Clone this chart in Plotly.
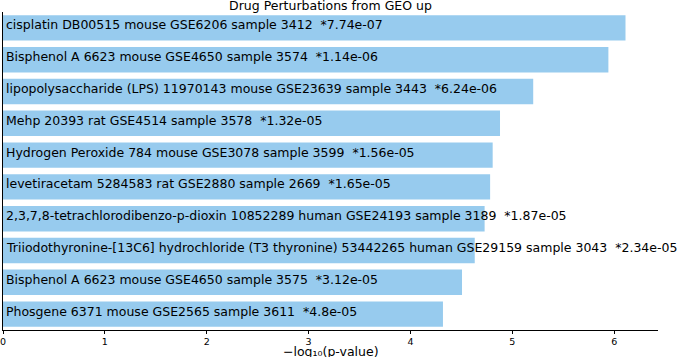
import plotly.graph_objects as go

terms = [
    "cisplatin DB00515 mouse GSE6206 sample 3412",
    "Bisphenol A 6623 mouse GSE4650 sample 3574",
    "lipopolysaccharide (LPS) 11970143 mouse GSE23639 sample 3443",
    "Mehp 20393 rat GSE4514 sample 3578",
    "Hydrogen Peroxide 784 mouse GSE3078 sample 3599",
    "levetiracetam 5284583 rat GSE2880 sample 2669",
    "2,3,7,8-tetrachlorodibenzo-p-dioxin 10852289 human GSE24193 sample 3189",
    "Triiodothyronine-[13C6] hydrochloride (T3 thyronine) 53442265 human GSE29159 sample 3043",
    "Bisphenol A 6623 mouse GSE4650 sample 3575",
    "Phosgene 6371 mouse GSE2565 sample 3611",
]
pvalue_labels = ["7.74e-07", "1.14e-06", "6.24e-06", "1.32e-05", "1.56e-05",
                 "1.65e-05", "1.87e-05", "2.34e-05", "3.12e-05", "4.8e-05"]
neg_log_p = [6.111, 5.943, 5.205, 4.879, 4.807, 4.782, 4.728, 4.631, 4.506, 4.319]
tick_vals = [0, 1, 2, 3, 4, 5, 6]

positions = list(range(len(terms)))
labels = [f"{t} \u00a0*{p}" for t, p in zip(terms, pvalue_labels)]

fig = go.Figure()
fig.add_trace(go.Bar(
    x=neg_log_p, y=positions, orientation="h", width=0.8,
    marker=dict(color="#97CBEE", line=dict(width=0)),
    hoverinfo="skip", showlegend=False,
))
for pos, lab in zip(positions, labels):
    fig.add_annotation(
        x=0, y=pos, xref="x", yref="y", text=lab, showarrow=False,
        xanchor="left", yanchor="middle", xshift=1, yshift=3,
        font=dict(family="DejaVu Sans", size=12.5, color="black"),
    )

fig.add_annotation(
    x=0.5, y=0, xref="paper", yref="paper", yanchor="middle", yshift=-21,
    text="\u2212log\u2081\u2080(p-value)", showarrow=False, borderpad=0,
    font=dict(family="DejaVu Sans", size=12.5, color="black"),
)

fig.update_layout(
    width=685, height=357,
    margin=dict(l=3, r=27, t=12, b=27, autoexpand=False),
    plot_bgcolor="white", paper_bgcolor="white",
    title=dict(text="Drug Perturbations from GEO up", x=0.5, xref="paper",
               xanchor="center", y=1.0, yanchor="top", pad=dict(t=1),
               font=dict(family="DejaVu Sans", size=12.5, color="black")),
    xaxis=dict(range=[0, 6.43], tickvals=tick_vals, showgrid=False, zeroline=False,
               showline=True, linecolor="black", linewidth=1, automargin=False,
               ticks="outside", ticklen=3, tickcolor="black",
               ticklabeloverflow="allow",
               tickfont=dict(family="DejaVu Sans", size=9.5, color="black")),
    yaxis=dict(range=[9.5, -0.5], showticklabels=False, showgrid=False,
               zeroline=False, showline=True, linecolor="black", linewidth=1,
               ticks="", automargin=False),
)

fig.write_html("out.html", config={"displayModeBar": False},
               post_script="document.body.style.margin='0';document.body.style.overflow='hidden';")
